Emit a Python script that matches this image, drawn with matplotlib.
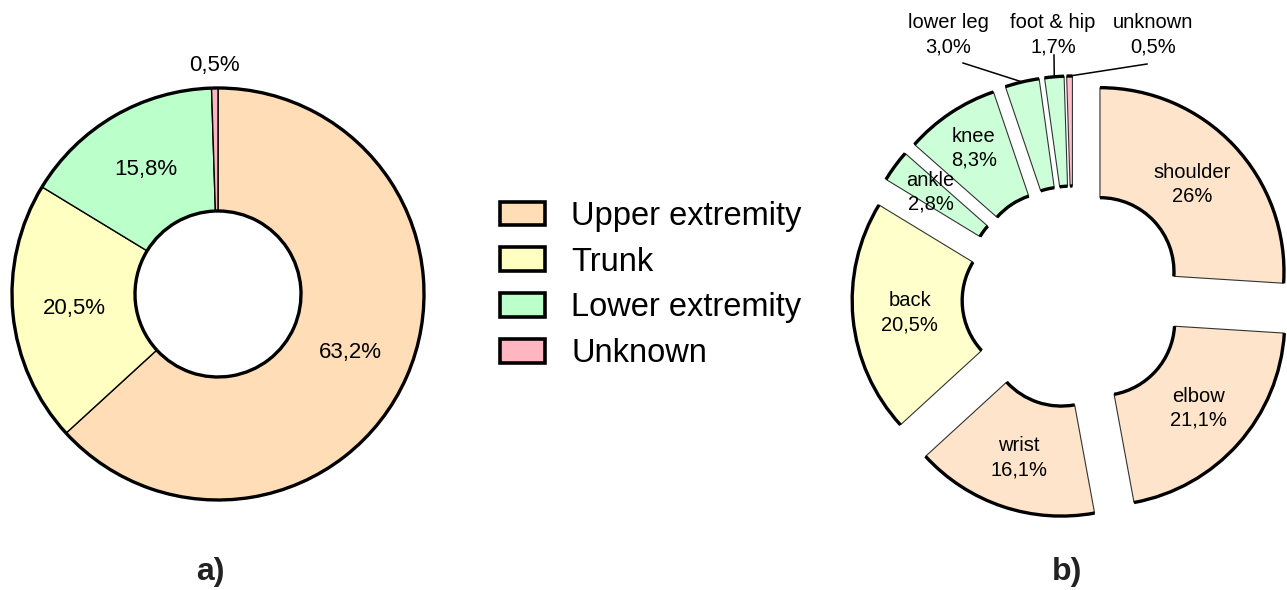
import math

import matplotlib
matplotlib.use('Agg')
import matplotlib.pyplot as plt
from matplotlib.patches import Arc, Patch

plt.rcParams['font.family'] = ['Liberation Sans', 'DejaVu Sans']

#+++++++++++++++++++++++++++++++++++++++++++++++++++++++++++++++++++++++++++++#

GROUPS = ['Upper extremity', 'Trunk', 'Lower extremity', 'Unknown']
GROUP_SHARE = [63.2, 20.5, 15.8, 0.5]
GROUP_TEXT = ['63,2%', '20,5%', '15,8%', '0,5%']
GROUP_COLORS = ['#FFDDB7', '#FFFFC1', '#BBFFCB', '#FFB6C1']

SITES = ['shoulder', 'elbow', 'wrist', 'back', 'ankle', 'knee',
         'lower leg', 'foot & hip', 'unknown']
SITE_SHARE = [26.0, 21.1, 16.1, 20.5, 2.8, 8.3, 3.0, 1.7, 0.5]
SITE_TEXT = ['26%', '21,1%', '16,1%', '20,5%', '2,8%', '8,3%',
             '3,0%', '1,7%', '0,5%']
SITE_GROUP = [0, 0, 0, 1, 2, 2, 2, 2, 3]
SITE_COLORS = ['#FDE4CA', '#FFFFCC', '#CCFFD8', '#FFC0CB']

#+++++++++++++++++++++++++++++++++++++++++++++++++++++++++++++++++++++++++++++#


def ring(ax, values, colors, center, radius, width, explode=None,
         edge='k', edge_lw=1.0, arc_lw=2.4):
  wedges, _ = ax.pie(
    values, colors=colors, center=center, radius=radius, explode=explode,
    startangle=90, counterclock=False,
    wedgeprops=dict(width=width, edgecolor=edge, linewidth=edge_lw))
  # thick outer / inner arcs, thin radial edges
  for w in wedges:
    for r in (w.r, w.r - w.width):
      ax.add_patch(Arc(w.center, 2 * r, 2 * r, theta1=w.theta1,
                       theta2=w.theta2, lw=arc_lw, color='k', zorder=3))
  return wedges


def polar(w, rr):
  t = math.radians(0.5 * (w.theta1 + w.theta2))
  return w.center[0] + rr * math.cos(t), w.center[1] + rr * math.sin(t)


fig = plt.figure(figsize=(12.87, 5.9), dpi=100)
ax = fig.add_axes([0, 0, 1, 1])

# a) body region groups
left = ring(ax, GROUP_SHARE, GROUP_COLORS, (218, 296), 206, 123)
left_dist = [0.70, 0.70, 0.70, 1.11]
for w, txt, d in zip(left, GROUP_TEXT, left_dist):
  ax.text(*polar(w, d * w.r), txt, ha='center', va='center', fontsize=16)

# b) injury sites
site_colors = [SITE_COLORS[g] for g in SITE_GROUP]
right = ring(ax, SITE_SHARE, site_colors, (1073, 293), 184, 110,
             explode=[37] * len(SITE_SHARE), edge='#333333', edge_lw=0.8)

inner_dist = [0.69, 0.71, 0.72, 0.69, 0.76, 0.77]
for w, name, txt, d in zip(right, SITES, SITE_TEXT, inner_dist):
  ax.text(*polar(w, d * w.r), name + '\n' + txt, ha='center', va='center',
          fontsize=14.5, linespacing=1.35)

outer_text = [(948, 555), (1053, 555), (1153, 555)]
outer_line = [(963, 527), (1054, 535), (1147, 526)]
for w, name, txt, tp, lp in zip(right[6:], SITES[6:], SITE_TEXT[6:],
                                outer_text, outer_line):
  ax.text(*tp, name + '\n' + txt, ha='center', va='center', fontsize=14.5,
          linespacing=1.35)
  ex, ey = polar(w, w.r)
  ax.plot([lp[0], ex], [lp[1], ey], color='k', lw=1.1)

handles = [Patch(facecolor=c, edgecolor='k', lw=2.6) for c in GROUP_COLORS]
ax.legend(handles, GROUPS, loc='upper left', bbox_to_anchor=(500, 389),
          bbox_transform=ax.transData, frameon=False, fontsize=23.5,
          handlelength=1.38, handleheight=0.74, handletextpad=0.8,
          labelspacing=0.45, borderpad=0, borderaxespad=0)

ax.text(210, 18, 'a)', ha='center', va='center', fontsize=23,
        fontweight='bold', color='#222222')
ax.text(1067, 18, 'b)', ha='center', va='center', fontsize=23,
        fontweight='bold', color='#222222')

ax.set_xlim(0, 1287)
ax.set_ylim(0, 590)
ax.set_aspect('equal')
ax.axis('off')

fig.savefig('out.png', dpi=100)
